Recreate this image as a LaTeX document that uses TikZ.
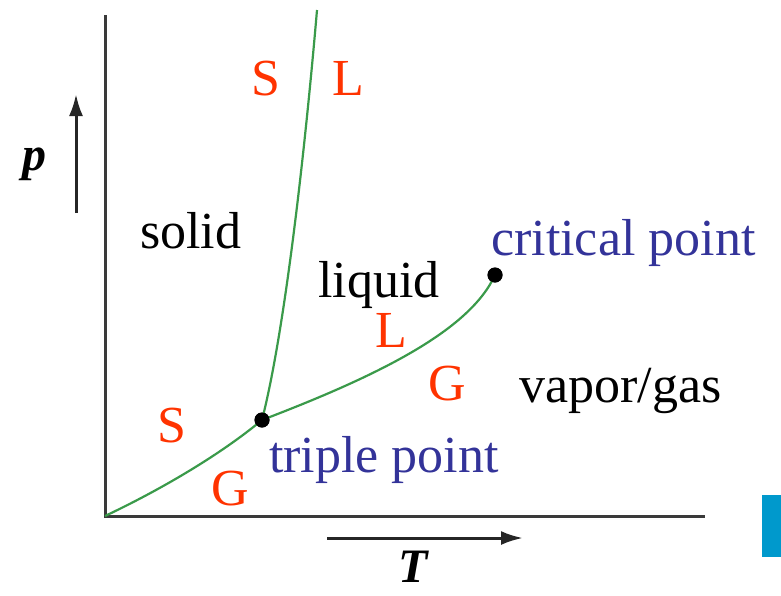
\documentclass[tikz,border=0pt]{standalone}
\usepackage{fontspec}
\setmainfont{Liberation Serif}
\usetikzlibrary{arrows.meta}
\definecolor{phred}{HTML}{FF3300}
\definecolor{phblue}{HTML}{333399}
\definecolor{phgreen}{HTML}{3A9A4A}
\definecolor{axisgray}{HTML}{3A3A3A}
\definecolor{tabblue}{HTML}{0099CC}
\tikzset{
  lbl/.style={anchor=base west, inner sep=0pt, font=\fontsize{52}{60}\selectfont},
  phase/.style={lbl, text=black},
  side/.style={lbl, text=phred},
  pointlbl/.style={lbl, text=phblue},
  axislbl/.style={anchor=base west, inner sep=0pt, font=\fontsize{48}{56}\selectfont\bfseries\itshape},
  axisline/.style={draw=axisgray, line width=3pt},
  dirarrow/.style={draw=black!85, line width=3pt, -{Latex[length=22pt,width=14pt]}},
  curve/.style={draw=phgreen, line width=2.2pt},
  dot/.style={circle, fill=black, inner sep=0pt, minimum size=15pt}
}
\begin{document}
\begin{tikzpicture}[x=1pt,y=-1pt]
\useasboundingbox (0,0) rectangle (781,595);
% axes
\coordinate (o) at (105,516);
\coordinate (ytop) at (105,15);
\coordinate (xend) at (705,516);
\path[axisline] (ytop) -- (o) -- (xend);
% direction arrows
\coordinate (pa0) at (76,213);
\coordinate (pa1) at (76,94);
\path[dirarrow] (pa0) -- (pa1);
\coordinate (ta0) at (327,538);
\coordinate (ta1) at (523,538);
\path[dirarrow] (ta0) -- (ta1);
\node[axislbl] (plab) at (22,170) {p};
\node[axislbl] (tlab) at (398,582) {T};
% points
\node[dot] (tp) at (262,420) {};
\node[dot] (cp) at (495,275) {};
\coordinate (mtop) at (317,10);
% curves
\path[curve] (o) .. controls (160,490) and (220,455) .. (tp.center);
\path[curve] (tp.center) .. controls (285,330) and (305,150) .. (mtop);
\path[curve] (tp.center) .. controls (380,375) and (470,330) .. (cp.center);
\node[dot] at (tp.center) {};
\node[dot] at (cp.center) {};
% labels
\node[side] (s1) at (251,95) {S};
\node[side] (l1) at (332,95) {L};
\node[phase] (solid) at (140,248) {solid};
\node[phase] (liquid) at (318,297) {liquid};
\node[pointlbl] (cplab) at (491,255) {critical point};
\node[side] (l2) at (375,347) {L};
\node[side] (g2) at (428,400) {G};
\node[phase] (gas) at (519,402) {vapor/gas};
\node[side] (s3) at (157,442) {S};
\node[side] (g3) at (211,505) {G};
\node[pointlbl] (tplab) at (269,472) {triple point};
% side tab
\fill[tabblue] (762,495) rectangle (781,557);
\end{tikzpicture}
\end{document}
